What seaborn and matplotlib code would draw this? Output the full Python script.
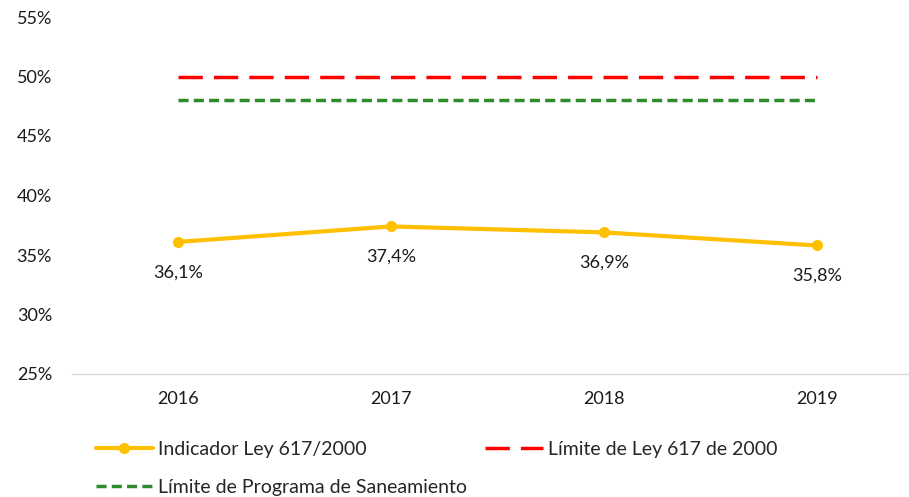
import matplotlib
matplotlib.use("Agg")
import matplotlib.pyplot as plt
import seaborn as sns
import pandas as pd

years = ["2016", "2017", "2018", "2019"]
indicador = [36.1, 37.4, 36.9, 35.8]
limite_ley = [50.0, 50.0, 50.0, 50.0]
limite_saneamiento = [48.0, 48.0, 48.0, 48.0]
y_ticks = [25, 30, 35, 40, 45, 50, 55]

sns.set_theme(style="white")
plt.rcParams["font.family"] = ["Lato", "DejaVu Sans"]

df = pd.DataFrame({
    "pos": range(len(years)),
    "indicador": indicador,
    "ley": limite_ley,
    "saneamiento": limite_saneamiento,
})

fig = plt.figure(figsize=(9.09, 4.97), dpi=100)
ax = fig.add_axes([71.5 / 909, 1 - 374 / 497, 852 / 909, 357 / 497])

sns.lineplot(data=df, x="pos", y="indicador", ax=ax, color="#FFC000",
             linewidth=3, marker="o", markersize=8, markeredgewidth=0,
             label="Indicador Ley 617/2000")
sns.lineplot(data=df, x="pos", y="ley", ax=ax, color="#FF0000",
             linewidth=2.5, dashes=False, label="Límite de Ley 617 de 2000")
sns.lineplot(data=df, x="pos", y="saneamiento", ax=ax, color="#2E8B2E",
             linewidth=2.5, label="Límite de Programa de Saneamiento")
ax.lines[1].set_dashes((7, 3.2))
ax.lines[2].set_dashes((2.9, 1.5))

for x, v in zip(df["pos"], indicador):
    ax.annotate(f"{v:.1f}%".replace(".", ","), (x, v), xytext=(0, -22),
                textcoords="offset points", ha="center", va="center",
                fontsize=13, color="#1a1a1a")

ax.set_xlim(-0.5, 3.5)
ax.set_ylim(25, 55)
ax.set_xticks(range(len(years)))
ax.set_xticklabels(years)
ax.set_yticks(y_ticks)
ax.set_yticklabels([f"{t}%" for t in y_ticks])
ax.tick_params(axis="both", length=0, labelsize=13, colors="#1a1a1a")
ax.tick_params(axis="y", pad=14)
ax.tick_params(axis="x", pad=12)
ax.set_xlabel("")
ax.set_ylabel("")
for s in ["left", "right", "top"]:
    ax.spines[s].set_visible(False)
ax.spines["bottom"].set_color("#d9d9d9")
ax.spines["bottom"].set_linewidth(1)

handles, labels = ax.get_legend_handles_labels()
ax.get_legend().remove()
order = [0, 2, 1]
fig.legend([handles[i] for i in order], [labels[i] for i in order],
           loc="upper left", bbox_to_anchor=(88 / 909, 1 - 433 / 497),
           ncol=2, frameon=False, fontsize=14, handlelength=2.95,
           handletextpad=0.27, columnspacing=0.93, labelspacing=1.1,
           borderaxespad=0)

fig.savefig("out.png", dpi=100)
